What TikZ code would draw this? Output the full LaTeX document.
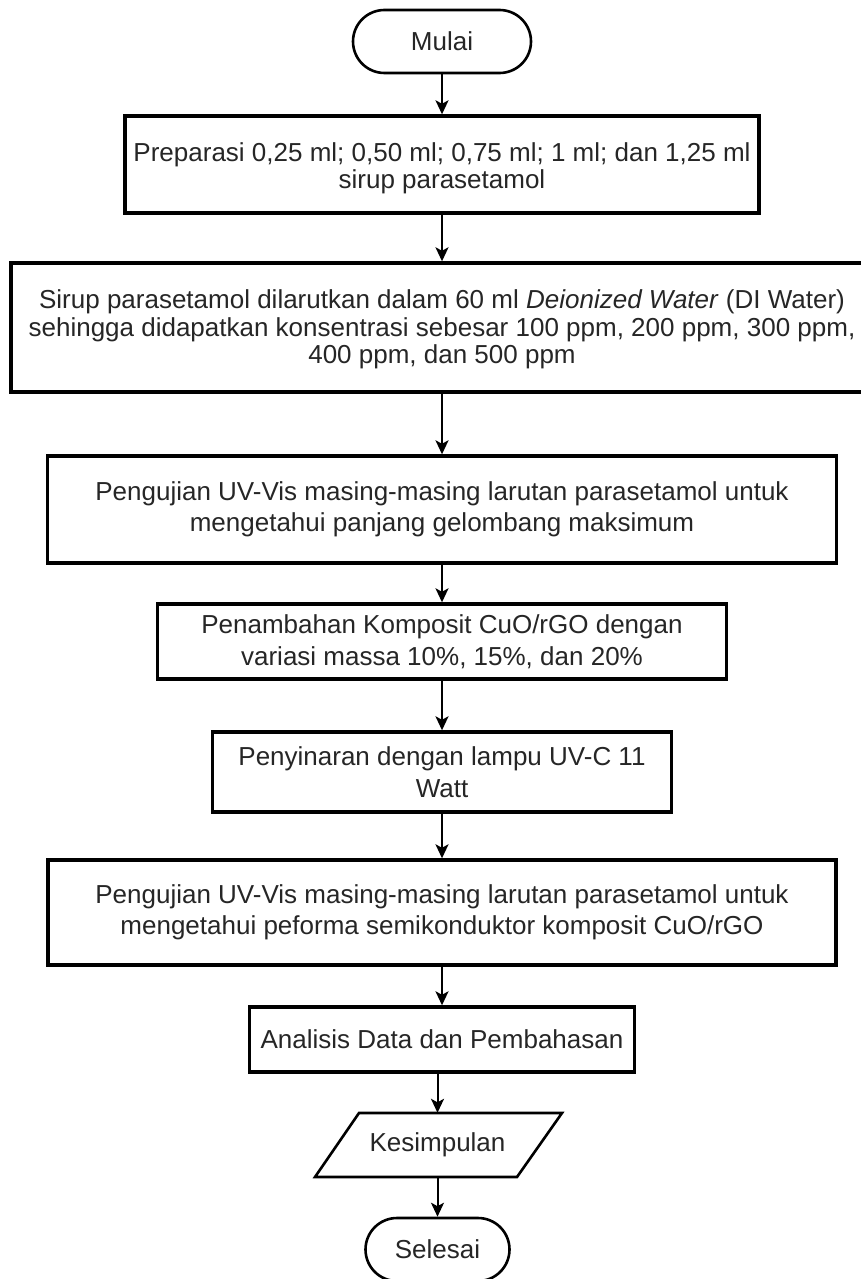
\documentclass[tikz,border=0pt]{standalone}
\usepackage{fontspec}
\setmainfont{Liberation Sans}
\usetikzlibrary{arrows.meta}
\newcommand{\shiftedlines}[2]{\raisebox{#1}[\height][\depth]{\begin{tabular}{@{}c@{}}#2\end{tabular}}}
\begin{document}
\begin{tikzpicture}[x=1pt,y=-1pt,
  procbox/.style={draw=black, line width=3.4pt, inner sep=0pt, align=center,
    text=black!85, font=\fontsize{26}{31.5}\selectfont},
  tightbox/.style={procbox, font=\fontsize{26}{27.5}\selectfont},
  termbox/.style={draw=black, line width=2.6pt, rounded corners=31.5pt,
    minimum height=63pt, inner sep=0pt, text=black!85,
    font=\fontsize{26}{31.5}\selectfont},
  iobox/.style={inner sep=0pt, minimum height=64pt, text=black!85,
    font=\fontsize{26}{31.5}\selectfont},
  ioline/.style={draw=black, line width=2.6pt, line join=miter},
  flow/.style={draw=black, line width=2pt, -{Stealth[length=14pt,width=13pt,inset=3.5pt]}},
]
\clip (0,0) rectangle (861,1279);
\fill[white] (0,0) rectangle (861,1279);

\node[termbox, minimum width=178pt] (start) at (442,41.5) {Mulai};

\node[tightbox, minimum width=634pt, minimum height=97pt] (b1) at (442,164.5)
  {\shiftedlines{-5pt}{Preparasi 0,25 ml; 0,50 ml; 0,75 ml; 1 ml; dan 1,25 ml\\ sirup parasetamol}};

\node[tightbox, minimum width=862pt, minimum height=129pt] (b2) at (442,327.5)
  {\shiftedlines{-3pt}{Sirup parasetamol dilarutkan dalam 60 ml \textit{Deionized Water} (DI Water)\\
   sehingga didapatkan konsentrasi sebesar 100 ppm, 200 ppm, 300 ppm,\\
   400 ppm, dan 500 ppm}};

\node[procbox, minimum width=789pt, minimum height=107pt] (b3) at (442,509.5)
  {Pengujian UV-Vis masing-masing larutan parasetamol untuk\\
   mengetahui panjang gelombang maksimum};

\node[procbox, minimum width=569pt, minimum height=75pt] (b4) at (442,641.5)
  {Penambahan Komposit CuO/rGO dengan\\ variasi massa 10\%, 15\%, dan 20\%};

\node[procbox, minimum width=459pt, minimum height=80pt] (b5) at (442,772)
  {Penyinaran dengan lampu UV-C 11\\ Watt};

\node[procbox, minimum width=788pt, minimum height=105pt] (b6) at (442,912.5)
  {Pengujian UV-Vis masing-masing larutan parasetamol untuk\\
   mengetahui peforma semikonduktor komposit CuO/rGO};

\node[procbox, minimum width=385pt, minimum height=65pt] (b7) at (442,1039.5)
  {Analisis Data dan Pembahasan};

\draw[ioline] (359,1113) -- (562,1113) -- (517,1177) -- (315,1177) -- cycle;
\node[iobox] (kes) at (437.5,1145) {Kesimpulan};

\node[termbox, minimum width=144pt] (stop) at (437.5,1249.5) {Selesai};

\draw[flow] (start.south) -- (b1.north);
\draw[flow] (b1.south) -- (b2.north);
\draw[flow] (b2.south) -- (b3.north);
\draw[flow] (b3.south) -- (b4.north);
\draw[flow] (b4.south) -- (b5.north);
\draw[flow] (b5.south) -- (b6.north);
\draw[flow] (b6.south) -- (b7.north);
\draw[flow] (b7.south -| kes.north) -- (kes.north);
\draw[flow] (kes.south) -- (stop.north);
\end{tikzpicture}
\end{document}
